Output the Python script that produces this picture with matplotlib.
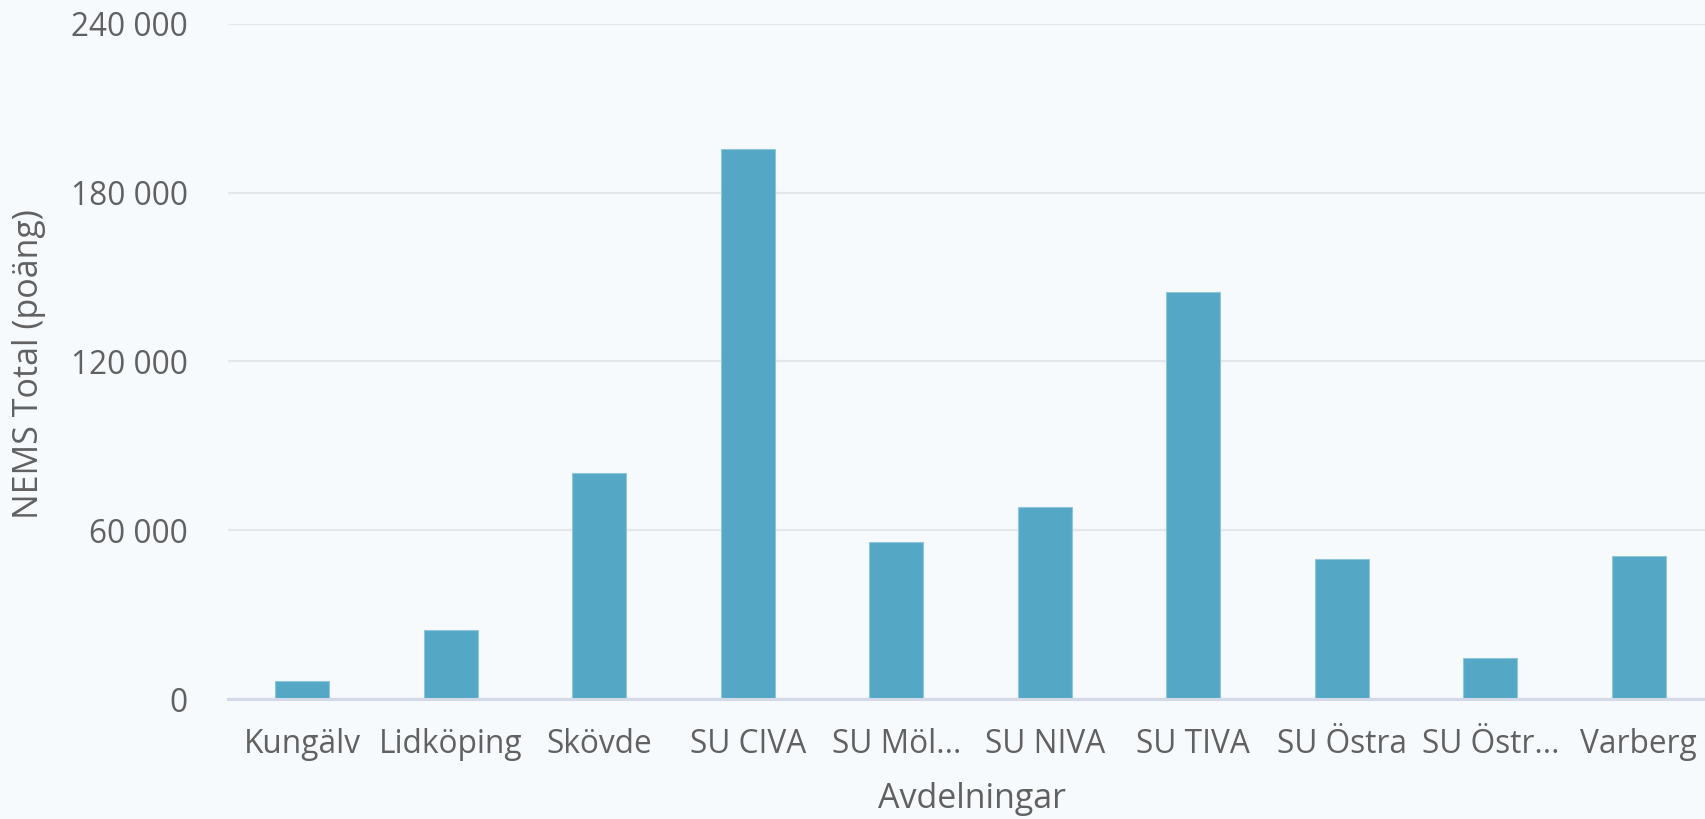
import matplotlib
matplotlib.use("Agg")
import matplotlib.pyplot as plt
from matplotlib.ticker import FuncFormatter, FixedLocator

categories = ["Kungälv", "Lidköping", "Skövde", "SU CIVA", "SU Möl...",
              "SU NIVA", "SU TIVA", "SU Östra", "SU Östr...", "Varberg"]
values = [6400, 24600, 80200, 195500, 55900, 68200, 144800, 49900, 14500, 51000]
y_ticks = [0, 60000, 120000, 180000, 240000]

BG = "#F7FAFC"
BAR = "#54A8C6"
TXT = "#616161"

plt.rcParams["font.family"] = ["Open Sans", "DejaVu Sans"]

W, H = 1705, 819
fig = plt.figure(figsize=(W / 100, H / 100), dpi=100, facecolor=BG)
ax = fig.add_axes([228 / W, 120 / H, 1485 / W, 675 / H], facecolor=BG)

x = list(range(len(categories)))
ax.bar(x, values, width=0.365, color=BAR, edgecolor="#8FC6DA", linewidth=0.8, zorder=3)

ax.set_xlim(-0.5, len(categories) - 0.5)
ax.set_ylim(0, 240000)
ax.yaxis.set_major_locator(FixedLocator(y_ticks))
ax.yaxis.set_major_formatter(FuncFormatter(lambda v, p: f"{int(v):,}".replace(",", " ")))
ax.set_xticks(x)
ax.set_xticklabels(categories)

ax.grid(axis="y", color="#E5E7EB", linewidth=1.6, zorder=0)
ax.set_axisbelow(True)
for s in ["top", "right", "left"]:
    ax.spines[s].set_visible(False)
ax.spines["bottom"].set_color("#D3D9E8")
ax.spines["bottom"].set_linewidth(2.2)
ax.spines["bottom"].set_zorder(4)

ax.tick_params(axis="both", length=0, labelsize=22.8, labelcolor=TXT)
ax.tick_params(axis="y", pad=29)
ax.tick_params(axis="x", pad=21)

ax.set_xlabel("Avdelningar", fontsize=24.5, color=TXT)
ax.set_ylabel("NEMS Total (poäng)", fontsize=24.5, color=TXT)
ax.xaxis.set_label_coords((972 - 228) / 1485, (699 - 799) / 675)
ax.xaxis.label.set_va("center")
ax.yaxis.set_label_coords((29 - 228) / 1485, (699 - 364) / 675)
ax.yaxis.label.set_va("center")

fig.savefig("out.png", dpi=100, facecolor=BG)
